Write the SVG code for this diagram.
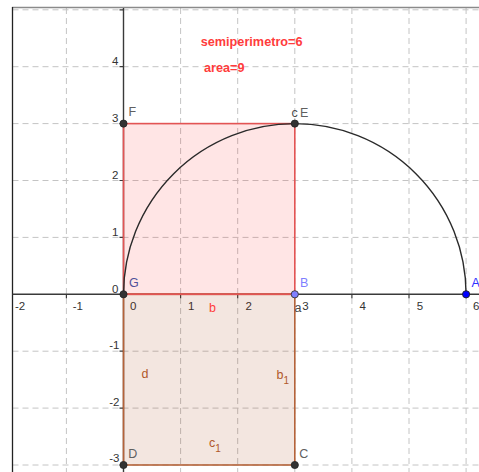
<svg xmlns="http://www.w3.org/2000/svg" width="479" height="472" viewBox="0 0 479 472">
<style>
.grid{stroke:#c4c4c4;stroke-width:1;stroke-dasharray:6,4;fill:none}
.axis{stroke:#3a3a3a;stroke-width:1.4;fill:none}
.tick{stroke:#3a3a3a;stroke-width:1.2}
.num{font-family:"Liberation Sans",Arial,sans-serif;font-size:11.5px;fill:#333}
.lbl{font-family:"Liberation Sans",Arial,sans-serif;font-size:12.5px;fill:#606060}
.red{font-family:"Liberation Sans",Arial,sans-serif;font-size:12.7px;font-weight:bold;fill:#ff3c3c}
.brown{font-family:"Liberation Sans",Arial,sans-serif;font-size:12.5px;fill:#b0582a}
.sub{font-size:10px}
.pt{fill:#333;stroke:#222;stroke-width:0.8}
</style>
<rect width="479" height="472" fill="#fff"/>
<g id="grid">
<path class="grid" d="M66.4,8V472M180.6,8V472M237.7,8V472M294.8,8V472M351.9,8V472M409,8V472M466.1,8V472"/>
<path class="grid" d="M12.5,9.8H479M12.5,66.7H479M12.5,123.6H479M12.5,180.5H479M12.5,237.4H479M12.5,351.2H479M12.5,408.1H479M12.5,465H479"/>
</g>
<g id="frame">
<line x1="12" y1="7.5" x2="479" y2="7.5" stroke="#8a8a8a" stroke-width="1.5"/>
<line x1="12.5" y1="7" x2="12.5" y2="472" stroke="#222" stroke-width="1.3"/>
</g>
<g id="axes">
<line class="axis" x1="12.5" y1="294.3" x2="479" y2="294.3"/>
<line class="axis" x1="123.5" y1="8" x2="123.5" y2="472"/>
<path class="tick" d="M66.4,294.3v4M180.6,294.3v4M237.7,294.3v4M294.8,294.3v4M351.9,294.3v4M409,294.3v4M466.1,294.3v4"/>
<path class="tick" d="M119.5,9.8h4M119.5,66.7h4M119.5,123.6h4M119.5,180.5h4M119.5,237.4h4M119.5,351.2h4M119.5,408.1h4M119.5,465h4"/>
<g class="num">
<text x="15" y="310">-2</text>
<text x="72.7" y="310">-1</text>
<text x="130" y="310">0</text>
<text x="188" y="310">1</text>
<text x="245.5" y="310">2</text>
<text x="302.3" y="310">3</text>
<text x="359.5" y="310">4</text>
<text x="416.8" y="310">5</text>
<text x="473" y="310">6</text>
</g>
<g class="num" text-anchor="end">
<text x="118.3" y="65">4</text>
<text x="118.3" y="121.8">3</text>
<text x="118.3" y="178.8">2</text>
<text x="118.3" y="235.7">1</text>
<text x="118.3" y="292.7">0</text>
<text x="119.5" y="348.8">-1</text>
<text x="119.5" y="405.5">-2</text>
<text x="119.5" y="462">-3</text>
</g>
</g>
<g id="polygons">
<rect id="poly1" x="123.5" y="123.6" width="171.3" height="170.7" fill="#ff0000" fill-opacity="0.1" stroke="#e35454" stroke-width="1.6"/>
<rect id="poly2" x="123.5" y="294.3" width="171.3" height="170.7" fill="#993300" fill-opacity="0.12" stroke="#b5633a" stroke-width="1.6"/>
<line x1="123.5" y1="294.3" x2="294.8" y2="294.3" stroke="#e35454" stroke-width="1.6"/>
</g>
<g id="connectors">
<path id="arc" d="M123.5,294.3 A171.3,170.7 0 0 1 466.1,294.3" fill="none" stroke="#2a2a2a" stroke-width="1.4"/>
</g>
<g id="F"><circle class="pt" cx="123.5" cy="123.6" r="3.6"/><text class="lbl" x="128.5" y="116">F</text></g>
<g id="E"><circle class="pt" cx="294.8" cy="123.6" r="3.6"/><text class="lbl" x="291.5" y="116.7" style="fill:#4a4a4a">c</text><text class="lbl" x="300" y="116.7">E</text></g>
<g id="G"><circle class="pt" cx="123.5" cy="294.3" r="3.6"/><text class="lbl" x="129" y="287.3" style="fill:#50509a">G</text></g>
<g id="B"><circle cx="294.8" cy="294.3" r="3.6" fill="#8080ff" stroke="#333" stroke-width="0.9"/><text class="lbl" x="300" y="287.3" style="fill:#7f7fff">B</text></g>
<g id="A"><circle cx="466.1" cy="294.3" r="3.6" fill="#0000ff" stroke="#222" stroke-width="0.9"/><text class="lbl" x="471.5" y="287.3" style="fill:#3030ff">A</text></g>
<g id="D"><circle class="pt" cx="123.5" cy="465" r="3.6"/><text class="lbl" x="128.3" y="457.7">D</text></g>
<g id="C"><circle class="pt" cx="294.8" cy="465" r="3.6"/><text class="lbl" x="299.3" y="457.7">C</text></g>
<g id="segment-labels">
<text class="lbl" x="294.5" y="311.7" style="fill:#4a4a4a">a</text>
<text class="lbl" x="209" y="311.7" style="fill:#ff3c3c">b</text>
<text class="brown" x="141.5" y="378.3">d</text>
<text class="brown" x="276.5" y="379.3">b<tspan class="sub" dy="5">1</tspan></text>
<text class="brown" x="209" y="446.7">c<tspan class="sub" dy="5">1</tspan></text>
</g>
<g id="texts">
<text class="red" x="200.7" y="46.3">semiperimetro=6</text>
<text class="red" x="204" y="71.7">area=9</text>
</g>
</svg>
